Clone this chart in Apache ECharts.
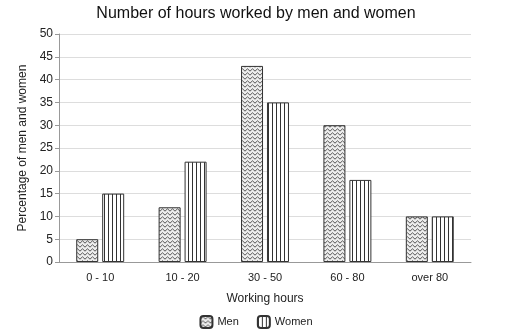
<!DOCTYPE html>
<html>
<head>
<meta charset="utf-8">
<script src="https://cdn.jsdelivr.net/npm/echarts@6/dist/echarts.min.js"></script>
<style>
  html, body { margin: 0; padding: 0; background: #fff; }
  #chart { width: 512px; height: 335px; }
</style>
</head>
<body>
<div id="chart"></div>
<script>
// 数据
const categories = ['0 - 10', '10 - 20', '30 - 50', '60 - 80', 'over 80'];
const menValues = [5, 12, 43, 30, 10];
const womenValues = [15, 22, 35, 18, 10];

// 锯齿纹理 (Men)
function zigzagPattern() {
    const c = document.createElement('canvas');
    c.width = 5; c.height = 4;
    const ctx = c.getContext('2d');
    ctx.fillStyle = '#eeeeee';
    ctx.fillRect(0, 0, 5, 4);
    ctx.strokeStyle = '#444';
    ctx.lineWidth = 0.9;
    ctx.beginPath();
    ctx.moveTo(0, 3.2);
    ctx.lineTo(2.5, 0.8);
    ctx.lineTo(5, 3.2);
    ctx.stroke();
    return c;
}

// 竖线纹理 (Women)
function stripePattern() {
    const c = document.createElement('canvas');
    c.width = 4; c.height = 4;
    const ctx = c.getContext('2d');
    ctx.fillStyle = '#fff';
    ctx.fillRect(0, 0, 4, 4);
    ctx.fillStyle = '#333';
    ctx.fillRect(0, 0, 1, 4);
    return c;
}

const myChart = echarts.init(document.getElementById('chart'));

const option = {
    animation: false,
    textStyle: { fontFamily: 'Liberation Sans, Arial, sans-serif' },
    title: {
        text: 'Number of hours worked by men and women',
        left: 'center',
        top: 1,
        textStyle: { fontSize: 16, fontWeight: 'normal', color: '#111' }
    },
    legend: {
        bottom: 1,
        left: 'center',
        itemWidth: 12,
        itemHeight: 12,
        itemGap: 18,
        textStyle: { fontSize: 11, color: '#222' },
        data: ['Men', 'Women']
    },
    grid: { left: 59, right: 41, top: 34, bottom: 73 },
    xAxis: {
        type: 'category',
        data: categories,
        name: 'Working hours',
        nameLocation: 'middle',
        nameGap: 31,
        nameTextStyle: { fontSize: 12, color: '#222' },
        axisLine: { lineStyle: { color: '#999' } },
        axisTick: { show: false },
        axisLabel: { fontSize: 11, color: '#222', margin: 10 }
    },
    yAxis: {
        type: 'value',
        min: 0,
        max: 50,
        interval: 5,
        name: 'Percentage of men and women',
        nameLocation: 'middle',
        nameGap: 30,
        nameTextStyle: { fontSize: 12, color: '#222' },
        axisLine: { show: true, lineStyle: { color: '#999' } },
        axisTick: { show: true, length: 4, lineStyle: { color: '#999' } },
        axisLabel: { fontSize: 12, color: '#222', margin: 6 },
        splitLine: { lineStyle: { color: '#ddd' } }
    },
    series: [
        {
            name: 'Men',
            type: 'bar',
            data: menValues,
            barWidth: 22,
            barGap: '18%',
            itemStyle: {
                color: { image: zigzagPattern(), repeat: 'repeat' },
                borderColor: '#333',
                borderWidth: 1
            }
        },
        {
            name: 'Women',
            type: 'bar',
            data: womenValues,
            barWidth: 22,
            itemStyle: {
                color: { image: stripePattern(), repeat: 'repeat' },
                borderColor: '#333',
                borderWidth: 1
            }
        }
    ]
};

myChart.setOption(option);
</script>
</body>
</html>
